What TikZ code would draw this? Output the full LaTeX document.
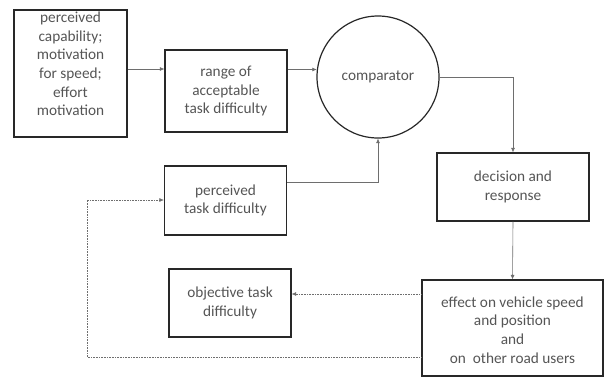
\documentclass[tikz,border=0pt]{standalone}
\usepackage{fontspec}
\setmainfont{Carlito}
\usetikzlibrary{arrows.meta}
\definecolor{txt}{RGB}{85,85,85}
\definecolor{ln}{RGB}{110,110,110}
\definecolor{bd}{RGB}{40,40,40}
\begin{document}
\begin{tikzpicture}[x={(1bp,0)},y={(0,-1bp)},
  every node/.style={font=\fontsize{15.3bp}{18.6bp}\selectfont,text=txt,align=center,inner sep=0pt},
  box/.style={draw=bd,line width=1.2bp,rectangle},
  arr/.style={draw=ln,line width=0.6bp,-{Latex[length=4.5bp,width=4bp]}},
  dotarr/.style={arr,dash pattern=on 0.8bp off 0.8bp}]
\useasboundingbox (0,0) rectangle (609,376);
\begin{scope}
\clip (0,0) rectangle (609,376);
\node[box,minimum width=113bp,minimum height=127bp] (cap) at (70.5,73.5) {};
\node (captext) at (70.5,64) {perceived\\capability;\\motivation\\for speed;\\effort\\motivation};
\node[box,minimum width=122bp,minimum height=82bp] (range) at (226,91) {range of\\acceptable\\task difficulty};
\node[draw=bd,line width=1.2bp,circle,minimum size=122bp] (comp) at (378,77) {comparator};
\node[box,minimum width=152bp,minimum height=68bp] (dec) at (513,187) {decision and\\response};
\node[box,minimum width=122bp,minimum height=69bp] (perc) at (225.5,200.5) {perceived\\task difficulty};
\node[box,minimum width=122bp,minimum height=68bp] (obj) at (230,303) {objective task\\difficulty};
\node[box,minimum width=181bp,minimum height=96bp] (eff) at (512.5,328) {};
\node (efftext) at (512.5,330) {effect on vehicle speed\\and position\\and\\on\ \ other road users};
\coordinate (fb) at (87,357);
\draw[arr] (cap.east |- 0,69) -- (range.west |- 0,69);
\draw[arr] (range.east |- comp.173) -- (comp.173);
\draw[arr] (comp.east) -| (dec.north);
\draw[arr] (perc.east |- 0,182) -| (comp.south);
\draw[arr] (dec.south) -- (eff.north);
\draw[dotarr] (eff.west |- 0,294) -- (obj.east |- 0,294);
\draw[dotarr] (eff.west |- fb) -- (fb) |- (perc.west |- 0,200);
\end{scope}
\end{tikzpicture}
\end{document}
